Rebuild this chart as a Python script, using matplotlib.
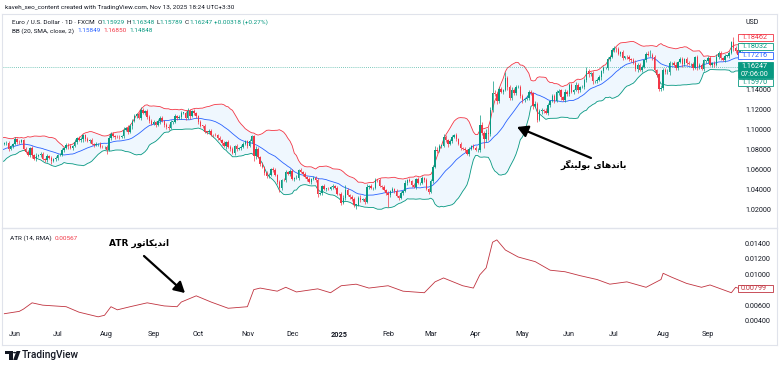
import numpy as np
import pandas as pd
import matplotlib
matplotlib.use("Agg")
import matplotlib.pyplot as plt
from matplotlib.patches import Rectangle, Polygon, Circle, FancyArrowPatch

# ---------------- data (EUR/USD daily) ----------------
c_2405 = [1.0718, 1.0665, 1.0713, 1.0727, 1.0761, 1.0772, 1.0753, 1.0748, 1.0782, 1.0770,
          1.0790, 1.0820, 1.0883, 1.0866, 1.0872, 1.0857, 1.0855, 1.0822, 1.0818, 1.0847,
          1.0857, 1.0859, 1.0802, 1.0833, 1.0848]
u_2405 = [2,1,2,2,3,1,2,2,2,1,3,2,1,2,2,2,2,1,2,1,1,2,2,1,1]
l_2405 = [1,2,2,1,2,1,2,3,1,2,1,2,2,1,2,2,1,2,1,2,1,2,2,1,2]
c_2406 = [1.0904, 1.0875, 1.0869, 1.0891, 1.0801, 1.0766, 1.0741, 1.0813, 1.0739, 1.0703,
          1.0734, 1.0739, 1.0747, 1.0703, 1.0692, 1.0735, 1.0713, 1.0682, 1.0702, 1.0713]
u_2406 = [2,1,2,1,1,2,2,1,2,1,3,1,2,2,1,2,1,2,1,2]
l_2406 = [1,2,2,1,1,1,1,2,3,1,2,1,2,1,2,2,1,3,1,2]
c_2407 = [1.0740, 1.0743, 1.0791, 1.0810, 1.0840, 1.0826, 1.0813, 1.0830, 1.0866, 1.0907,
          1.0894, 1.0899, 1.0938, 1.0897, 1.0884, 1.0891, 1.0847, 1.0842, 1.0850, 1.0855,
          1.0820, 1.0817, 1.0825]
u_2407 = [1,2,2,1,2,2,2,1,3,1,2,2,1,1,2,1,2,1,2,1,2,2,1]
l_2407 = [2,1,1,2,1,3,1,2,1,2,1,2,3,2,1,2,1,2,1,2,1,1,2]
c_2408 = [1.0790, 1.0910, 1.0953, 1.0932, 1.0922, 1.0920, 1.0917, 1.0933, 1.0993, 1.1012,
          1.0968, 1.1027, 1.1077, 1.1130, 1.1150, 1.1115, 1.1192, 1.1160, 1.1183, 1.1120,
          1.1077, 1.1048]
u_2408 = [2,3,2,2,1,2,2,1,3,1,3,2,2,2,1,2,3,2,1,2,2,2]
l_2408 = [4,1,2,1,2,1,2,1,2,1,2,1,3,1,2,1,2,1,2,2,2,1]
c_2409 = [1.1074, 1.1044, 1.1080, 1.1112, 1.1083, 1.1040, 1.1017, 1.1013, 1.1075, 1.1075,
          1.1131, 1.1115, 1.1117, 1.1163, 1.1163, 1.1112, 1.1180, 1.1133, 1.1177, 1.1163,
          1.1135]
u_2409 = [2,1,2,2,2,1,2,3,2,1,2,1,2,2,1,2,3,2,1,2,1]
l_2409 = [1,2,1,3,1,2,2,2,1,2,1,2,1,2,1,2,1,3,1,2,2]
c_2410 = [1.1068, 1.1033, 1.1032, 1.0975, 1.0974, 1.0980, 1.0940, 1.0938, 1.0937, 1.0907,
          1.0892, 1.0862, 1.0832, 1.0867, 1.0818, 1.0797, 1.0765, 1.0827, 1.0797, 1.0815,
          1.0817, 1.0855, 1.0883]
u_2410 = [1,2,1,2,1,2,2,1,2,1,2,1,2,1,2,2,2,1,2,1,2,2,1]
l_2410 = [2,1,2,1,2,1,1,2,1,2,1,2,1,3,1,2,1,2,2,1,2,1,1]
c_2411 = [1.0834, 1.0880, 1.0930, 1.0730, 1.0802, 1.0720, 1.0655, 1.0620, 1.0565, 1.0530,
          1.0540, 1.0597, 1.0595, 1.0545, 1.0470, 1.0415, 1.0495, 1.0487, 1.0566, 1.0550,
          1.0577]
u_2411 = [1,2,1,1,3,2,1,2,1,2,2,1,2,2,1,2,1,2,2,1,2]
l_2411 = [2,1,2,5,3,1,2,1,2,2,2,1,2,1,2,4,2,1,2,1,2]
c_2412 = [1.0497, 1.0510, 1.0510, 1.0587, 1.0567, 1.0555, 1.0525, 1.0500, 1.0468, 1.0500,
          1.0512, 1.0490, 1.0350, 1.0365, 1.0428, 1.0405, 1.0405, 1.0400, 1.0422, 1.0428,
          1.0407, 1.0355]
u_2412 = [2,1,3,1,2,1,2,1,2,1,2,2,2,1,1,2,1,2,1,2,1,2]
l_2412 = [1,2,1,2,1,2,1,2,1,2,1,2,3,1,2,1,2,1,1,2,1,1]
c_2501 = [1.0350, 1.0265, 1.0307, 1.0390, 1.0342, 1.0318, 1.0298, 1.0243, 1.0245, 1.0310,
          1.0290, 1.0300, 1.0272, 1.0418, 1.0432, 1.0410, 1.0415, 1.0495, 1.0493, 1.0430,
          1.0420, 1.0390, 1.0362]
u_2501 = [1,2,3,5,2,1,2,2,1,2,3,1,2,3,1,2,1,2,1,2,1,2,1]
l_2501 = [1,2,1,2,1,2,2,2,4,1,2,1,2,1,2,1,2,1,2,1,2,1,2]
c_2502 = [1.0345, 1.0380, 1.0403, 1.0382, 1.0330, 1.0306, 1.0360, 1.0385, 1.0465, 1.0490,
          1.0485, 1.0445, 1.0420, 1.0500, 1.0460, 1.0465, 1.0513, 1.0487, 1.0397, 1.0375]
u_2502 = [2,1,2,1,2,1,2,1,3,1,2,1,2,1,2,1,2,1,2,1]
l_2502 = [12,2,1,2,1,2,1,2,1,2,1,2,1,2,1,2,1,2,1,2]
c_2503 = [1.0485, 1.0625, 1.0790, 1.0785, 1.0833, 1.0834, 1.0918, 1.0890, 1.0853, 1.0880,
          1.0922, 1.0945, 1.0900, 1.0850, 1.0815, 1.0800, 1.0790, 1.0752, 1.0800, 1.0830,
          1.0815]
u_2503 = [2,2,4,3,2,1,3,2,1,2,2,1,2,1,2,1,2,1,2,1,2]
l_2503 = [1,2,1,2,1,2,1,2,3,1,2,1,2,1,2,1,2,1,2,1,1]
c_2504 = [1.0790, 1.0790, 1.1040, 1.0960, 1.0905, 1.0960, 1.0950, 1.1190, 1.1357, 1.1350,
          1.1285, 1.1400, 1.1367, 1.1390, 1.1510, 1.1420, 1.1315, 1.1390, 1.1365, 1.1420,
          1.1425, 1.1330]
u_2504 = [2,2,10,3,2,4,6,3,12,3,2,2,2,1,6,2,2,3,2,2,2,2]
l_2504 = [1,2,2,2,9,3,6,2,2,2,3,2,1,2,1,3,2,2,2,2,1,2]
c_2505 = [1.1290, 1.1300, 1.1315, 1.1370, 1.1360, 1.1232, 1.1250, 1.1090, 1.1185, 1.1190,
          1.1185, 1.1165, 1.1240, 1.1285, 1.1330, 1.1285, 1.1365, 1.1385, 1.1325, 1.1290,
          1.1370, 1.1350]
u_2505 = [2,1,3,2,2,1,3,2,2,2,1,3,2,1,2,2,3,2,2,1,3,2]
l_2505 = [3,2,1,2,2,3,1,2,1,3,2,1,2,2,1,2,1,2,3,1,2,2]
c_2506 = [1.1445, 1.1370, 1.1390, 1.1445, 1.1395, 1.1420, 1.1425, 1.1490, 1.1585, 1.1550,
          1.1560, 1.1480, 1.1480, 1.1495, 1.1525, 1.1580, 1.1610, 1.1610, 1.1700, 1.1720,
          1.1787]
u_2506 = [2,2,1,3,2,1,2,2,4,2,1,2,1,2,2,1,2,1,2,1,2]
l_2506 = [2,1,2,1,3,2,1,2,2,3,2,3,2,2,1,3,2,1,2,2,1]
c_2507 = [1.1805, 1.1800, 1.1755, 1.1775, 1.1710, 1.1725, 1.1720, 1.1700, 1.1690, 1.1665,
          1.1600, 1.1640, 1.1595, 1.1625, 1.1690, 1.1755, 1.1740, 1.1740, 1.1720, 1.1590,
          1.1545, 1.1405, 1.1415]
u_2507 = [3,2,2,1,2,1,2,2,1,2,3,2,2,2,1,2,3,5,2,2,1,2,3]
l_2507 = [2,3,1,2,2,1,2,2,2,1,2,3,1,2,1,2,1,2,3,2,2,2,2]
c_2508 = [1.1590, 1.1570, 1.1575, 1.1660, 1.1665, 1.1640, 1.1615, 1.1675, 1.1705, 1.1650,
          1.1700, 1.1665, 1.1650, 1.1650, 1.1610, 1.1720, 1.1620, 1.1645, 1.1605, 1.1685,
          1.1685]
u_2508 = [2,2,3,2,1,2,3,1,2,2,1,2,2,1,2,1,2,2,2,2,1]
l_2508 = [2,2,2,3,2,1,2,2,1,3,2,2,1,2,2,1,3,2,1,2,2]
c_2509 = [1.1710, 1.1645, 1.1660, 1.1645, 1.1720, 1.1760, 1.1710, 1.1695, 1.1735, 1.1735,
          1.1765, 1.1870, 1.1815, 1.1785, 1.1745, 1.1800, 1.1803]
u_2509 = [2,2,1,2,3,2,2,1,2,1,2,1,5,2,2,2,2]
l_2509 = [2,1,2,2,1,2,2,1,2,1,2,1,3,2,2,2,2]

month_starts = ["2024-04-29", "2024-06-03", "2024-07-01", "2024-08-01", "2024-09-02",
                "2024-10-01", "2024-11-01", "2024-12-02", "2025-01-01", "2025-02-03",
                "2025-03-03", "2025-04-01", "2025-05-01", "2025-06-02", "2025-07-01",
                "2025-08-01", "2025-09-01"]
month_close = [c_2405, c_2406, c_2407, c_2408, c_2409, c_2410, c_2411, c_2412, c_2501,
               c_2502, c_2503, c_2504, c_2505, c_2506, c_2507, c_2508, c_2509]
month_up = [u_2405, u_2406, u_2407, u_2408, u_2409, u_2410, u_2411, u_2412, u_2501,
            u_2502, u_2503, u_2504, u_2505, u_2506, u_2507, u_2508, u_2509]
month_lo = [l_2405, l_2406, l_2407, l_2408, l_2409, l_2410, l_2411, l_2412, l_2501,
            l_2502, l_2503, l_2504, l_2505, l_2506, l_2507, l_2508, l_2509]

# ATR(14, RMA)
atr_dates = ["2024-05-27", "2024-06-05", "2024-06-07", "2024-06-13", "2024-06-20", "2024-07-05",
             "2024-07-15", "2024-07-26", "2024-07-31", "2024-08-05", "2024-08-08", "2024-08-16",
             "2024-08-28", "2024-09-09", "2024-09-17", "2024-09-19", "2024-09-30", "2024-10-09",
             "2024-10-21", "2024-11-01", "2024-11-06", "2024-11-11", "2024-11-21", "2024-11-27",
             "2024-12-04", "2024-12-18", "2024-12-26", "2025-01-02", "2025-01-13", "2025-01-21",
             "2025-02-03", "2025-02-12", "2025-02-26", "2025-03-05", "2025-03-11", "2025-03-24",
             "2025-03-31", "2025-04-03", "2025-04-08", "2025-04-11", "2025-04-15", "2025-04-21",
             "2025-04-29", "2025-05-09", "2025-05-20", "2025-05-29", "2025-06-09", "2025-06-19",
             "2025-06-27", "2025-07-09", "2025-07-22", "2025-07-31", "2025-08-01", "2025-08-07",
             "2025-08-18", "2025-08-27", "2025-09-02", "2025-09-10", "2025-09-16", "2025-09-18",
             "2025-09-23"]
atr_vals = [0.0049, 0.0052, 0.0055, 0.0063, 0.0060, 0.0058, 0.0051, 0.0045, 0.0047, 0.0058,
            0.0054, 0.0058, 0.0063, 0.0059, 0.0058, 0.0064, 0.0072, 0.0064, 0.0056, 0.0058,
            0.0080, 0.0082, 0.0078, 0.0083, 0.0077, 0.0081, 0.0076, 0.0085, 0.0087, 0.0082,
            0.0085, 0.0078, 0.0076, 0.0090, 0.0095, 0.0085, 0.0082, 0.0099, 0.0108, 0.0141,
            0.0144, 0.0131, 0.0122, 0.0116, 0.0105, 0.0103, 0.0098, 0.0093, 0.0087, 0.0090,
            0.0083, 0.0093, 0.0101, 0.0096, 0.0088, 0.0083, 0.0086, 0.0080, 0.0076, 0.0083,
            0.00799]

price_ticks = [1.02, 1.04, 1.06, 1.08, 1.10, 1.12, 1.14]
atr_ticks = [0.004, 0.006, 0.010, 0.012, 0.014]

# ---------------- assemble ----------------
closes, ups, los, dates = [], [], [], []
for st, c, u, l in zip(month_starts, month_close, month_up, month_lo):
    if not (len(c) == len(u) == len(l)):
        raise SystemExit(f"length mismatch {st}: {len(c)} {len(u)} {len(l)}")
    closes += c; ups += u; los += l
    dates += list(pd.bdate_range(st, periods=len(c)))
closes = np.array(closes)
opens = np.r_[closes[0], closes[:-1]]
highs = np.maximum(opens, closes) + np.array(ups) / 1000.0
lows = np.minimum(opens, closes) - np.array(los) / 1000.0
idx = np.arange(len(closes))
date_idx = {d.strftime("%Y-%m-%d"): i for i, d in enumerate(dates)}

s = pd.Series(closes)
basis = s.rolling(20).mean().values
sd = s.rolling(20).std(ddof=0).values
upper = basis + 2 * sd
lower = basis - 2 * sd

W, H = 780, 373
fig = plt.figure(figsize=(W / 100, H / 100), dpi=100)
fig.patch.set_facecolor("white")
UI = ["Roboto", "DejaVu Sans"]
TXT = "#131722"
GREEN = "#089981"
RED = "#F23645"
BLUE = "#2962FF"
ATRC = "#C0333F"

def P(x, y):
    return (x / W, 1 - y / H)

L_PX, R_PX = 3, 743
ax = fig.add_axes([L_PX / W, 1 - 228 / H, (R_PX - L_PX) / W, (228 - 14) / H])
axa = fig.add_axes([L_PX / W, 1 - 325 / H, (R_PX - L_PX) / W, (325 - 228) / H])

i0 = 25  # index of Jun 3 2024
pxbar = 2.132
xlim = (i0 + (L_PX - 15) / pxbar, i0 + (R_PX - 15) / pxbar)
for a in (ax, axa):
    a.set_facecolor("white")
    for sp in a.spines.values():
        sp.set_visible(False)

ylim_p = (1.10 - (228 - 129) / 1000, 1.10 + (129 - 14) / 1000)
ylim_a = (0.014 - (325 - 243) / 7770, 0.014 + (243 - 228) / 7770)

vis = idx >= int(xlim[0])
bx = idx[vis]
ax.fill_between(bx, lower[vis], upper[vis], color="#2196F3", alpha=0.07, lw=0, zorder=1)
ax.plot(bx, upper[vis], color=RED, lw=0.6, zorder=2)
ax.plot(bx, lower[vis], color=GREEN, lw=0.6, zorder=2)
ax.plot(bx, basis[vis], color=BLUE, lw=0.6, zorder=2)

col = np.where(closes >= opens, GREEN, RED)
bot = np.minimum(opens, closes)
hgt = np.maximum(np.abs(closes - opens), 0.0005)
ax.vlines(idx[vis], lows[vis], highs[vis], colors=col[vis], lw=0.5, zorder=3)
ax.bar(idx[vis], hgt[vis], bottom=bot[vis], width=0.68, color=col[vis], lw=0, zorder=4)

ax.axhline(1.16247, color=GREEN, lw=0.6, ls=(0, (1, 1.5)), alpha=0.7, zorder=2)

ax.yaxis.tick_right()
ax.set_yticks(price_ticks)
ax.set_yticklabels([f"{v:.5f}" for v in price_ticks])
ax.tick_params(axis="y", length=0, pad=1.5, labelsize=5.2, labelcolor=TXT)
ax.set_xticks([])
for t in ax.get_yticklabels():
    t.set_family(UI)

ax_x = [date_idx[d] for d in atr_dates]
axa.plot(ax_x, atr_vals, color=ATRC, lw=0.6, zorder=3)
axa.yaxis.tick_right()
axa.set_yticks(atr_ticks)
axa.set_yticklabels([f"{v:.5f}" for v in atr_ticks])
axa.tick_params(axis="y", length=0, pad=1.5, labelsize=5.2, labelcolor=TXT)
for t in axa.get_yticklabels():
    t.set_family(UI)

# time axis: first bar of each month inside the view
m_first, m_lab = [], []
prev = None
for i, d in enumerate(dates):
    key = (d.year, d.month)
    if key != prev:
        prev = key
        if xlim[0] + 2 <= i <= xlim[1]:
            m_first.append(i)
            m_lab.append("2025" if d.month == 1 else d.strftime("%b"))
axa.set_xticks(m_first)
axa.set_xticklabels(m_lab)
axa.tick_params(axis="x", length=0, pad=4.5, labelsize=5.2, labelcolor=TXT)
for t in axa.get_xticklabels():
    t.set_family(UI)
    if t.get_text() == "2025":
        t.set_fontweight("bold")

for a in (ax, axa):
    a.set_xlim(*xlim)
ax.set_ylim(*ylim_p)
axa.set_ylim(*ylim_a)

def hline(y, x0, x1, c="#E0E3EB", lw=0.8):
    fig.add_artist(plt.Line2D([x0 / W, x1 / W], [1 - y / H, 1 - y / H], color=c, lw=lw))
def vline(x, y0, y1, c="#E0E3EB", lw=0.8):
    fig.add_artist(plt.Line2D([x / W, x / W], [1 - y0 / H, 1 - y1 / H], color=c, lw=lw))
hline(228, 2, 777, lw=1.0)
hline(14, 2, 777)
hline(345, 2, 777)
vline(2, 14, 345)
vline(777, 14, 345)

# ---------------- texts ----------------
r = fig.canvas.get_renderer()

def pieces(x, y, parts, size, weight="normal"):
    for txt, c, gap in parts:
        t = fig.text(*P(x, y), txt, color=c, fontsize=size, family=UI, va="center",
                     ha="left", fontweight=weight)
        x += t.get_window_extent(renderer=r).width + gap

fig.text(*P(5, 7), "kaveh_seo_content created with TradingView.com, Nov 13, 2025 18:24 UTC+3:30",
         fontsize=4.6, family=UI, color=TXT, va="center")
pieces(12, 22, [("Euro / U.S. Dollar · 1D · FXCM", TXT, 2.5),
                ("O", TXT, 0), ("1.15929", GREEN, 2), ("H", TXT, 0), ("1.16348", GREEN, 2),
                ("L", TXT, 0), ("1.15789", GREEN, 2), ("C", TXT, 0), ("1.16247", GREEN, 2),
                ("+0.00318 (+0.27%)", GREEN, 0)], 4.6)
pieces(12, 31, [("BB (20, SMA, close, 2)", TXT, 3), ("1.15849", BLUE, 3),
                ("1.16850", RED, 3), ("1.14848", GREEN, 0)], 4.6)
pieces(10, 238, [("ATR (14, RMA)", TXT, 3), ("0.00567", RED, 0)], 4.6)
fig.text(*P(745, 23), "USD", fontsize=5, family=UI, color=TXT, va="center")

def label_box(y0, y1, lines, ec, fc="white", tc=None):
    x0, x1 = 738, 773
    fig.add_artist(Rectangle(P(x0, y1), (x1 - x0) / W, (y1 - y0) / H, transform=fig.transFigure,
                             fc=fc, ec=ec, lw=0.6, zorder=10))
    n = len(lines)
    for k, s_ in enumerate(lines):
        yy = y0 + (y1 - y0) * (k + 0.5) / n
        fig.text(*P(741, yy + 0.3), s_, fontsize=5.2, family=UI, color=tc or ec,
                 va="center", ha="left", zorder=11)

label_box(34.3, 41.0, ["1.18462"], RED)
label_box(43.3, 50.0, ["1.18032"], GREEN)
label_box(52.3, 59.0, ["1.17216"], BLUE)
label_box(61.7, 78.3, ["1.16247", "07:06:00"], GREEN, fc=GREEN, tc="white")
label_box(79.0, 85.7, ["1.15970"], GREEN)
label_box(285.0, 292.0, ["0.00799"], ATRC)

# ---------------- Persian annotations (simple contextual shaping) ----------------
FORMS = {
    "ا": ("\uFE8D", "\uFE8E", None, None), "ب": ("\uFE8F", "\uFE90", "\uFE91", "\uFE92"),
    "ت": ("\uFE95", "\uFE96", "\uFE97", "\uFE98"), "د": ("\uFEA9", "\uFEAA", None, None),
    "ر": ("\uFEAD", "\uFEAE", None, None), "ل": ("\uFEDD", "\uFEDE", "\uFEDF", "\uFEE0"),
    "ن": ("\uFEE5", "\uFEE6", "\uFEE7", "\uFEE8"), "ه": ("\uFEE9", "\uFEEA", "\uFEEB", "\uFEEC"),
    "و": ("\uFEED", "\uFEEE", None, None), "ی": ("\uFBFC", "\uFBFD", "\uFBFE", "\uFBFF"),
    "ک": ("\uFB8E", "\uFB8F", "\uFB90", "\uFB91"), "گ": ("\uFB92", "\uFB93", "\uFB94", "\uFB95"),
}

def shape_word(w):
    out = []
    for i, ch in enumerate(w):
        f = FORMS[ch]
        jp = i > 0 and w[i - 1] in FORMS and FORMS[w[i - 1]][2] is not None
        jn = f[2] is not None and i + 1 < len(w) and w[i + 1] in FORMS
        out.append(f[3] if jp and jn else f[1] if jp else f[2] if jn else f[0])
    return "".join(reversed(out))

def rtl(text):
    words = text.split(" ")
    vis_words = [shape_word(w) if w and w[0] in FORMS else w for w in words]
    return " ".join(reversed(vis_words))

fa_font = ["DejaVu Sans"]
fig.text(*P(594, 165), rtl("باندهای بولینگر"), fontsize=6.5, fontweight="bold",
         family=fa_font, color="black", ha="center", va="center")
fig.text(*P(139, 243), rtl("اندیکاتور ATR"), fontsize=6.5, fontweight="bold",
         family=fa_font, color="black", ha="center", va="center")

arrow = dict(arrowstyle="-|>,head_length=0.8,head_width=0.45", lw=1.6, color="black",
             shrinkA=0, shrinkB=0, mutation_scale=8)
fig.add_artist(FancyArrowPatch(P(591, 158), P(517, 127), transform=fig.transFigure, **arrow))
fig.add_artist(FancyArrowPatch(P(144, 256), P(185, 293), transform=fig.transFigure, **arrow))

# ---------------- TradingView logo ----------------
def frect(x0, y0, x1, y1):
    fig.add_artist(Rectangle(P(x0, y1), (x1 - x0) / W, (y1 - y0) / H, transform=fig.transFigure,
                             fc=TXT, ec="none"))
frect(5, 351, 12.5, 354.2)
frect(9.3, 351, 12.5, 360)
fig.add_artist(Circle(P(14.6, 352.6), 1.6 / W, transform=fig.transFigure, fc=TXT, ec="none"))
fig.add_artist(Polygon([P(16.5, 351), P(20.5, 351), P(17.2, 360), P(13.2, 360)],
                       closed=True, transform=fig.transFigure, fc=TXT, ec="none"))
fig.text(*P(22, 355.5), "TradingView", fontsize=7.3, family=UI, color=TXT, va="center",
         ha="left", fontweight="medium")

fig.savefig("out.png", dpi=100, facecolor="white")
